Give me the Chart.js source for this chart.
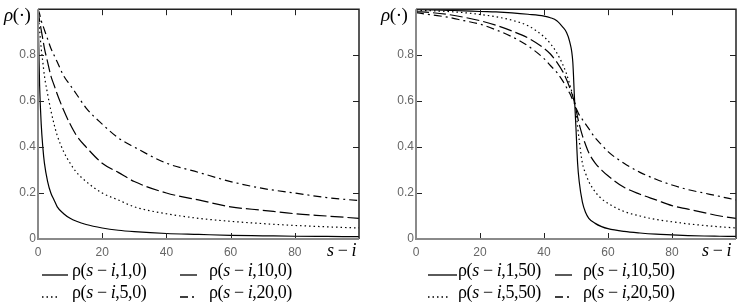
<!DOCTYPE html>
<html>
<head>
<meta charset="utf-8">
<script src="https://cdn.jsdelivr.net/npm/chart.js@4/dist/chart.umd.min.js"></script>
<style>
  body { margin: 0; background: #fff; width: 745px; height: 304px; position: relative; overflow: hidden; }
  .box { position: absolute; top: 0; height: 304px; }
  .txt { position: absolute; font-family: "Liberation Serif", "DejaVu Serif", serif; font-size: 18px; line-height: 22px; color: #000; white-space: nowrap; letter-spacing: -0.4px; }
  .txt i { font-style: italic; }
  svg { position: absolute; overflow: visible; }
</style>
</head>
<body>
<div class="box" style="left:0;width:362px"><canvas id="leftChart" width="362" height="304"></canvas></div>
<div class="box" style="left:378px;width:361px"><canvas id="rightChart" width="361" height="304"></canvas></div>
<div id="labels"></div>
<script>
// s - i sample points, left panel (offset 0)
const xsLeft = [0, 0.5, 1, 1.5, 2, 3, 4, 5, 6, 8, 10, 12, 15, 20, 25, 30, 40, 50, 60, 70, 80, 90, 100];
const left1 = [1, 0.67, 0.5, 0.4, 0.33, 0.25, 0.2, 0.17, 0.14, 0.11, 0.09, 0.077, 0.063, 0.048, 0.038, 0.032, 0.024, 0.02, 0.016, 0.014, 0.012, 0.011, 0.01];
const left5 = [1, 0.91, 0.83, 0.77, 0.71, 0.63, 0.56, 0.5, 0.45, 0.38, 0.33, 0.29, 0.25, 0.2, 0.17, 0.14, 0.11, 0.09, 0.077, 0.067, 0.059, 0.053, 0.048];
const left10 = [1, 0.95, 0.91, 0.87, 0.83, 0.77, 0.71, 0.67, 0.63, 0.56, 0.5, 0.45, 0.4, 0.33, 0.29, 0.25, 0.2, 0.17, 0.14, 0.125, 0.11, 0.1, 0.09];
const left20 = [1, 0.98, 0.95, 0.93, 0.91, 0.87, 0.83, 0.8, 0.77, 0.71, 0.67, 0.63, 0.57, 0.5, 0.44, 0.4, 0.33, 0.29, 0.25, 0.22, 0.2, 0.18, 0.167];

// right panel (offset 50)
const xsRight = [0, 5, 10, 15, 20, 25, 30, 35, 40, 42, 44, 46, 47, 48, 49, 49.5, 50, 50.5, 51, 52, 53, 54, 56, 58, 60, 65, 70, 75, 80, 85, 90, 95, 100];
const right1 = [0.998, 0.997, 0.995, 0.993, 0.99, 0.988, 0.984, 0.978, 0.97, 0.963, 0.95, 0.92, 0.9, 0.86, 0.77, 0.62, 0.48, 0.33, 0.25, 0.16, 0.115, 0.09, 0.068, 0.054, 0.045, 0.033, 0.026, 0.021, 0.018, 0.015, 0.013, 0.012, 0.011];
const right5 = [0.995, 0.993, 0.99, 0.985, 0.977, 0.967, 0.952, 0.928, 0.88, 0.85, 0.81, 0.755, 0.72, 0.675, 0.625, 0.6, 0.56, 0.49, 0.43, 0.33, 0.285, 0.25, 0.205, 0.175, 0.155, 0.12, 0.1, 0.085, 0.075, 0.066, 0.059, 0.053, 0.048];
const right10 = [0.99, 0.985, 0.977, 0.965, 0.95, 0.93, 0.905, 0.875, 0.83, 0.805, 0.77, 0.725, 0.695, 0.66, 0.62, 0.595, 0.565, 0.53, 0.5, 0.45, 0.41, 0.375, 0.33, 0.3, 0.275, 0.225, 0.195, 0.17, 0.145, 0.13, 0.115, 0.1, 0.09];
const right20 = [0.985, 0.975, 0.965, 0.95, 0.935, 0.91, 0.88, 0.84, 0.785, 0.755, 0.725, 0.685, 0.66, 0.635, 0.605, 0.59, 0.57, 0.555, 0.54, 0.52, 0.5, 0.48, 0.44, 0.41, 0.38, 0.33, 0.29, 0.26, 0.235, 0.215, 0.2, 0.185, 0.17];

const xTicks = [0, 20, 40, 60, 80];
const yTicks = [0, 0.2, 0.4, 0.6, 0.8];

const dashes = { a1: [], a5: [1.5, 3], a10: [13, 4], a20: [8, 4, 2, 4] };

function points(xs, ys) {
    return xs.map((x, i) => ({ x: x, y: ys[i] }));
}

function line(data, dash) {
    return {
        data: data,
        borderColor: "#000",
        borderWidth: 1.2,
        borderDash: dash,
        pointRadius: 0,
        fill: false,
        cubicInterpolationMode: "monotone"
    };
}

// frame and inward tick marks on all four sides
const frameTicks = {
    id: "frameTicks",
    afterDraw(chart) {
        const ctx = chart.ctx;
        const a = chart.chartArea;
        const xs = chart.scales.x;
        const ys = chart.scales.y;
        const len = 6;
        ctx.save();
        ctx.strokeStyle = "#222";
        ctx.lineWidth = 1;
        ctx.beginPath();
        xTicks.forEach(v => {
            if (v === 0) return;
            const px = Math.round(xs.getPixelForValue(v)) + 0.5;
            ctx.moveTo(px, a.bottom); ctx.lineTo(px, a.bottom - len);
            ctx.moveTo(px, a.top); ctx.lineTo(px, a.top + len);
        });
        yTicks.forEach(v => {
            if (v === 0) return;
            const py = Math.round(ys.getPixelForValue(v)) + 0.5;
            ctx.moveTo(a.left, py); ctx.lineTo(a.left + len, py);
            ctx.moveTo(a.right, py); ctx.lineTo(a.right - len, py);
        });
        ctx.stroke();

        ctx.strokeStyle = "#222";
        ctx.lineWidth = 1.5;
        ctx.beginPath();
        ctx.moveTo(a.left, a.top); ctx.lineTo(a.right, a.top); ctx.lineTo(a.right, a.bottom);
        ctx.stroke();

        ctx.strokeStyle = "#8a8a8a";
        ctx.lineWidth = 2;
        ctx.beginPath();
        ctx.moveTo(a.left, a.top); ctx.lineTo(a.left, a.bottom); ctx.lineTo(a.right, a.bottom);
        ctx.stroke();
        ctx.restore();
    }
};

function makeChart(id, datasets) {
    return new Chart(document.getElementById(id), {
        type: "line",
        data: { datasets: datasets },
        options: {
            responsive: false,
            animation: false,
            devicePixelRatio: 1,
            layout: { padding: { top: 6, right: 3, left: 0, bottom: 0 } },
            plugins: { legend: { display: false }, tooltip: { enabled: false } },
            scales: {
                x: {
                    type: "linear",
                    min: 0,
                    max: 100,
                    afterFit: s => { s.height = 65; },
                    afterBuildTicks: s => { s.ticks = xTicks.map(v => ({ value: v })); },
                    grid: { display: false, drawTicks: false },
                    border: { display: false },
                    ticks: {
                        padding: 6,
                        color: "#666",
                        font: { family: "Liberation Sans", size: 12 },
                        maxRotation: 0
                    }
                },
                y: {
                    type: "linear",
                    min: 0,
                    max: 1,
                    afterFit: s => { s.width = 38; },
                    afterBuildTicks: s => { s.ticks = yTicks.map(v => ({ value: v })); },
                    grid: { display: false, drawTicks: false },
                    border: { display: false },
                    ticks: {
                        padding: 2,
                        color: "#666",
                        font: { family: "Liberation Sans", size: 12 },
                        callback: v => (v === 0 ? "0" : v.toFixed(1))
                    }
                }
            }
        },
        plugins: [frameTicks]
    });
}

makeChart("leftChart", [
    line(points(xsLeft, left1), dashes.a1),
    line(points(xsLeft, left5), dashes.a5),
    line(points(xsLeft, left10), dashes.a10),
    line(points(xsLeft, left20), dashes.a20)
]);

makeChart("rightChart", [
    line(points(xsRight, right1), dashes.a1),
    line(points(xsRight, right5), dashes.a5),
    line(points(xsRight, right10), dashes.a10),
    line(points(xsRight, right20), dashes.a20)
]);

// axis titles and legends as html text
const labels = document.getElementById("labels");

function addText(html, left, top, extra) {
    const d = document.createElement("div");
    d.className = "txt";
    d.innerHTML = html;
    d.style.left = left + "px";
    d.style.top = top + "px";
    if (extra) Object.assign(d.style, extra);
    labels.appendChild(d);
}

function addSample(left, top, width, dash) {
    const ns = "http://www.w3.org/2000/svg";
    const svg = document.createElementNS(ns, "svg");
    svg.setAttribute("width", width);
    svg.setAttribute("height", 22);
    svg.style.left = left + "px";
    svg.style.top = top + "px";
    const l = document.createElementNS(ns, "line");
    l.setAttribute("x1", 0); l.setAttribute("x2", width);
    l.setAttribute("y1", 16); l.setAttribute("y2", 16);
    l.setAttribute("stroke", "#000");
    l.setAttribute("stroke-width", 1.3);
    if (dash.length) l.setAttribute("stroke-dasharray", dash.join(" "));
    svg.appendChild(l);
    labels.appendChild(svg);
}

const rho = (a, off) => "\u03c1(<i>s</i> \u2212 <i>i</i>," + a + "," + off + ")";

// y titles
addText("<i>\u03c1</i>(\u00b7)", 4, 4, { fontSize: "19px" });
addText("<i>\u03c1</i>(\u00b7)", 381, 4, { fontSize: "19px" });
// x titles
addText("<i>s</i> \u2212 <i>i</i>", 327, 239);
addText("<i>s</i> \u2212 <i>i</i>", 702, 239);

// left legend
addSample(42, 259, 26, dashes.a1);  addText(rho(1, 0), 72, 259);
addSample(180, 259, 17, []);        addText(rho(10, 0), 209, 259);
addSample(42, 281, 18, dashes.a5);  addText(rho(5, 0), 72, 281);
addSample(180, 281, 17, dashes.a20); addText(rho(20, 0), 209, 281);

// right legend
addSample(428, 259, 29, dashes.a1);  addText(rho(1, 50), 458, 259);
addSample(555, 259, 17, []);         addText(rho(10, 50), 583, 259);
addSample(428, 281, 22, dashes.a5);  addText(rho(5, 50), 458, 281);
addSample(555, 281, 17, dashes.a20); addText(rho(20, 50), 583, 281);
</script>
</body>
</html>
